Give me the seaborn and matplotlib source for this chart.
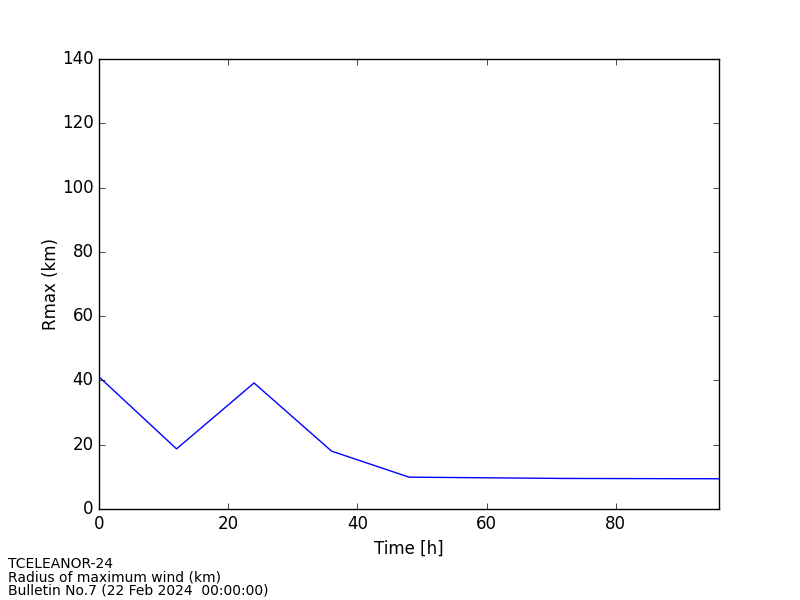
import matplotlib
matplotlib.use('Agg')
import matplotlib.pyplot as plt
import seaborn as sns
import pandas as pd

hours = [0, 12, 24, 36, 48, 72, 96]
rmax = [41.1, 18.7, 39.2, 18.0, 9.9, 9.5, 9.4]

plt.style.use('classic')
plt.rcParams['font.family'] = ['DejaVu Sans']

df = pd.DataFrame({'Time [h]': hours, 'Rmax (km)': rmax})

fig = plt.figure(figsize=(8, 6), dpi=100, facecolor='white')
ax = fig.add_axes([0.1238, 0.1517, 0.775, 0.75])
sns.lineplot(data=df, x='Time [h]', y='Rmax (km)', ax=ax, color='blue', linewidth=1)
ax.set_xlim(0, 96)
ax.set_ylim(0, 140)
ax.set_xlabel('Time [h]', fontsize=12)
ax.set_ylabel('Rmax (km)', fontsize=12, labelpad=1)

fig.text(0.01, 0.005, 'TCELEANOR-24\nRadius of maximum wind (km)\nBulletin No.7 (22 Feb 2024  00:00:00)',
         fontsize=10, va='bottom', ha='left', linespacing=0.9)

fig.savefig('out.png', dpi=100, facecolor='white')
